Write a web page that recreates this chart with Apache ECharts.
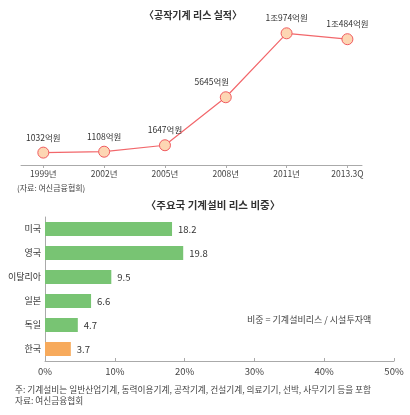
<!DOCTYPE html>
<html>
<head>
<meta charset="utf-8">
<script src="https://cdn.jsdelivr.net/npm/echarts@6/dist/echarts.min.js"></script>
<style>
html,body{margin:0;padding:0;background:#fff;}
#c{width:410px;height:415px;}
</style>
</head>
<body>
<div id="c"></div>
<script>
// Line chart data
const years = ['1999년', '2002년', '2005년', '2008년', '2011년', '2013.3Q'];
const leaseAmounts = [1032, 1108, 1647, 5645, 10974, 10484]; // 억원

// Bar chart data
const countries = ['미국', '영국', '이탈리아', '일본', '독일', '한국'];
const shares = [18.2, 19.8, 9.5, 6.6, 4.7, 3.7]; // %
const shareTicks = [0, 10, 20, 30, 40, 50];

const FONT = '"Noto Sans CJK KR", "Noto Sans", sans-serif';

function fmtAmount(v) {
  if (v >= 10000) return Math.floor(v / 10000) + '조' + (v % 10000) + '억원';
  return v + '억원';
}

const lineData = leaseAmounts.map((v, i) => {
  const d = { value: [i, v] };
  if (i === 3) d.label = { offset: [-14, 0] };
  return d;
});

const barData = shares.map((v, i) => ({
  value: v,
  itemStyle: { color: countries[i] === '한국' ? '#f7aa5c' : '#78c473' }
}));

const chart = echarts.init(document.getElementById('c'), null, { renderer: 'canvas' });
chart.setOption({
  animation: false,
  textStyle: { fontFamily: FONT },
  title: [
    { text: '〈공작기계 리스 실적〉', left: 188, top: 5, textAlign: 'center',
      textStyle: { fontSize: 10, fontWeight: 'bold', color: '#333', fontFamily: FONT } },
    { text: '〈주요국 기계설비 리스 비중〉', left: 208, top: 195, textAlign: 'center',
      textStyle: { fontSize: 10.5, fontWeight: 'bold', color: '#333', fontFamily: FONT } }
  ],
  graphic: [
    { type: 'text', left: 17, top: 184, style: { text: '(자료: 여신금융협회)', fontSize: 8, fill: '#444', fontFamily: FONT } },
    { type: 'text', left: 247, top: 315, style: { text: '비중 = 기계설비리스 / 시설투자액', fontSize: 9, fill: '#444', fontFamily: FONT } },
    { type: 'text', left: 15, top: 385, style: { text: '주: 기계설비는 일반산업기계, 동력이용기계, 공작기계, 건설기계, 의료기기, 선박, 사무기기 등을 포함', fontSize: 8.7, fill: '#444', fontFamily: FONT } },
    { type: 'text', left: 15, top: 396, style: { text: '자료: 여신금융협회', fontSize: 8.7, fill: '#444', fontFamily: FONT } }
  ],
  grid: [
    { left: 21, right: 48, top: 21, bottom: 250 },
    { left: 45, right: 16, top: 217, bottom: 54 }
  ],
  xAxis: [
    {
      gridIndex: 0, type: 'value', min: -0.367, max: 5.24,
      splitLine: { show: false },
      axisLine: { show: true, lineStyle: { color: '#aaa', width: 1 } },
      axisTick: { show: true, customValues: years.map((_, i) => i), length: 3, lineStyle: { color: '#aaa' } },
      axisLabel: { customValues: years.map((_, i) => i), formatter: v => years[Math.round(v)],
        fontSize: 8.5, color: '#444', margin: 5, fontFamily: FONT }
    },
    {
      gridIndex: 1, type: 'value', min: shareTicks[0], max: shareTicks[shareTicks.length - 1], interval: 10,
      splitLine: { show: false },
      axisLine: { show: true, lineStyle: { color: '#aaa', width: 1 } },
      axisTick: { show: true, inside: true, length: 3, lineStyle: { color: '#aaa' } },
      axisLabel: { formatter: '{value}%', fontSize: 9.5, color: '#444', margin: 6, fontFamily: FONT }
    }
  ],
  yAxis: [
    { gridIndex: 0, type: 'value', min: 0, max: 12000, show: false },
    {
      gridIndex: 1, type: 'category', data: countries, inverse: true,
      axisLine: { show: true, lineStyle: { color: '#aaa', width: 1 } },
      axisTick: { show: false },
      axisLabel: { fontSize: 9, color: '#333', margin: 4, fontFamily: FONT }
    }
  ],
  series: [
    {
      type: 'line', xAxisIndex: 0, yAxisIndex: 0, data: lineData,
      symbol: 'circle', symbolSize: 11,
      lineStyle: { color: '#f2676b', width: 1.2 },
      itemStyle: { color: '#fdd6b3', borderColor: '#ef5a5f', borderWidth: 1 },
      label: { show: true, position: 'top', distance: 5, fontSize: 8.5, color: '#333',
        fontFamily: FONT, formatter: p => fmtAmount(p.value[1]) }
    },
    {
      type: 'bar', xAxisIndex: 1, yAxisIndex: 1, data: barData, barWidth: 14,
      label: { show: true, position: 'right', distance: 6, fontSize: 9.5, color: '#333',
        fontFamily: FONT, formatter: p => p.value.toFixed(1) }
    }
  ]
});
</script>
</body>
</html>
